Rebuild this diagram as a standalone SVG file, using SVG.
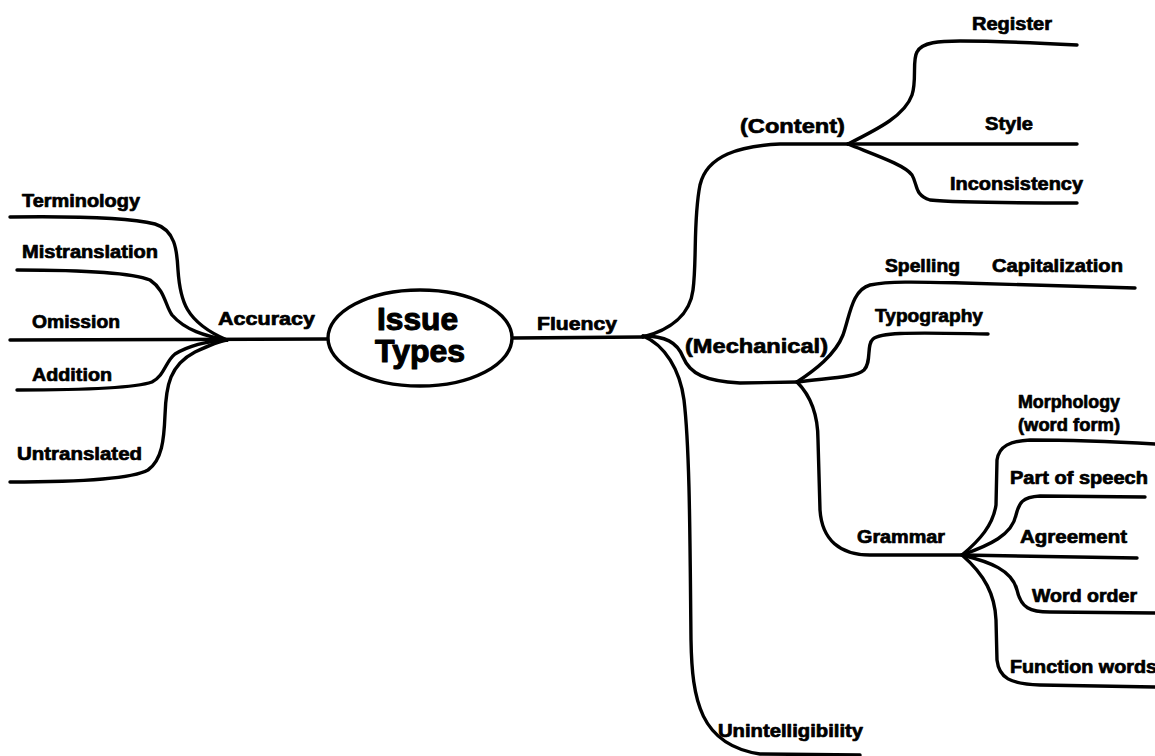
<svg xmlns="http://www.w3.org/2000/svg" width="1155" height="756" viewBox="0 0 1155 756">
<style>
.c{fill:none;stroke:#000;stroke-width:3.4;stroke-linecap:round;stroke-linejoin:round}
text{font-family:"Liberation Sans",Arial,sans-serif;font-weight:bold;fill:#000;font-size:18px;stroke:#000;stroke-width:0.7;stroke-linejoin:round}
.big{font-size:21px}
.root{font-size:31px;stroke-width:1.1}
</style>
<rect width="1155" height="756" fill="#fff"/>
<g id="connectors">
<path class="c" d="M10,217 C80,216 130,218 155,224 C175,230 177,250 178,270 C180,300 185,322 227,340"/>
<path class="c" d="M17,270 C80,270 130,272 150,280 C165,290 165,305 172,315 C185,330 205,336 227,340"/>
<path class="c" d="M10,340 L327,339"/>
<path class="c" d="M17,390 C80,390 135,388 152,382 C165,375 165,362 175,354 C190,345 210,341 227,340"/>
<path class="c" d="M10,482 C70,482 130,480 148,470 C162,460 164,440 165,415 C166,385 170,365 195,352 C210,345 220,341 227,340"/>
<path class="c" d="M513,338 L643,337"/>
<path class="c" d="M643,337 C670,330 690,315 693,290 C697,260 693,220 700,185 C707,155 740,146 780,144 L848,144"/>
<path class="c" d="M848,144 C880,128 905,115 912,95 C917,80 912,60 917,52 C922,42 940,41 960,41 C1000,41 1040,43 1077,45"/>
<path class="c" d="M848,144 L1077,144"/>
<path class="c" d="M848,144 C875,155 905,165 912,175 C918,185 914,195 930,200 C960,203 1020,203 1077,203"/>
<path class="c" d="M643,336 C665,336 677,342 683,357 C690,374 705,381 740,383 L797,382"/>
<path class="c" d="M797,382 C815,370 835,355 843,335 C850,315 852,290 870,285 C890,281 920,282 963,283 L1135,288"/>
<path class="c" d="M797,382 C825,378 855,378 864,370 C872,362 866,345 873,339 C880,333 900,332 988,334"/>
<path class="c" d="M797,382 C810,395 818,415 818,440 L820,510 C822,540 840,555 870,555 L962,555"/>
<path class="c" d="M962,555 C980,540 993,525 996,505 L997,460 C999,446 1010,441 1030,440 C1080,440 1120,442 1155,444"/>
<path class="c" d="M962,555 C990,545 1012,535 1016,515 C1019,503 1022,497 1040,496 L1145,497"/>
<path class="c" d="M962,555 L1137,558"/>
<path class="c" d="M962,555 C990,562 1012,570 1017,590 C1021,608 1030,612 1050,612 L1155,613"/>
<path class="c" d="M962,555 C985,575 995,595 996,620 L997,660 C999,678 1010,684 1040,685 L1155,687"/>
<path class="c" d="M643,336 C665,345 680,370 684,400 C690,450 690,550 691,640 C692,700 700,745 760,754 L860,755"/>
</g>
<g id="issue-types">
<ellipse cx="420" cy="338" rx="92" ry="48" fill="#fff" stroke="#000" stroke-width="3.4"/>
<text class="root" x="377" y="330" textLength="81" lengthAdjust="spacingAndGlyphs">Issue</text>
<text class="root" x="375" y="362" textLength="90" lengthAdjust="spacingAndGlyphs">Types</text>
</g>
<g id="accuracy"><text x="218" y="325" textLength="97" lengthAdjust="spacingAndGlyphs">Accuracy</text></g>
<g id="terminology"><text x="22" y="207" textLength="118" lengthAdjust="spacingAndGlyphs">Terminology</text></g>
<g id="mistranslation"><text x="22" y="258" textLength="136" lengthAdjust="spacingAndGlyphs">Mistranslation</text></g>
<g id="omission"><text x="32" y="328" textLength="88" lengthAdjust="spacingAndGlyphs">Omission</text></g>
<g id="addition"><text x="32" y="381" textLength="80" lengthAdjust="spacingAndGlyphs">Addition</text></g>
<g id="untranslated"><text x="17" y="460" textLength="125" lengthAdjust="spacingAndGlyphs">Untranslated</text></g>
<g id="fluency"><text x="537" y="330" textLength="80" lengthAdjust="spacingAndGlyphs">Fluency</text></g>
<g id="content"><text class="big" x="740" y="133" textLength="105" lengthAdjust="spacingAndGlyphs">(Content)</text></g>
<g id="register"><text x="972" y="30" textLength="80" lengthAdjust="spacingAndGlyphs">Register</text></g>
<g id="style"><text x="985" y="130" textLength="48" lengthAdjust="spacingAndGlyphs">Style</text></g>
<g id="inconsistency"><text x="950" y="190" textLength="133" lengthAdjust="spacingAndGlyphs">Inconsistency</text></g>
<g id="mechanical"><text class="big" x="685" y="353" textLength="143" lengthAdjust="spacingAndGlyphs">(Mechanical)</text></g>
<g id="spelling"><text x="885" y="272" textLength="75" lengthAdjust="spacingAndGlyphs">Spelling</text></g>
<g id="capitalization"><text x="992" y="272" textLength="131" lengthAdjust="spacingAndGlyphs">Capitalization</text></g>
<g id="typography"><text x="875" y="322" textLength="108" lengthAdjust="spacingAndGlyphs">Typography</text></g>
<g id="grammar"><text x="857" y="543" textLength="88" lengthAdjust="spacingAndGlyphs">Grammar</text></g>
<g id="morphology"><text x="1018" y="408" textLength="102" lengthAdjust="spacingAndGlyphs">Morphology</text><text x="1018" y="431" textLength="102" lengthAdjust="spacingAndGlyphs">(word form)</text></g>
<g id="part-of-speech"><text x="1010" y="484" textLength="138" lengthAdjust="spacingAndGlyphs">Part of speech</text></g>
<g id="agreement"><text x="1020" y="543" textLength="107" lengthAdjust="spacingAndGlyphs">Agreement</text></g>
<g id="word-order"><text x="1032" y="602" textLength="105" lengthAdjust="spacingAndGlyphs">Word order</text></g>
<g id="function-words"><text x="1010" y="673" textLength="147" lengthAdjust="spacingAndGlyphs">Function words</text></g>
<g id="unintelligibility"><text x="718" y="737" textLength="145" lengthAdjust="spacingAndGlyphs">Unintelligibility</text></g>
</svg>
